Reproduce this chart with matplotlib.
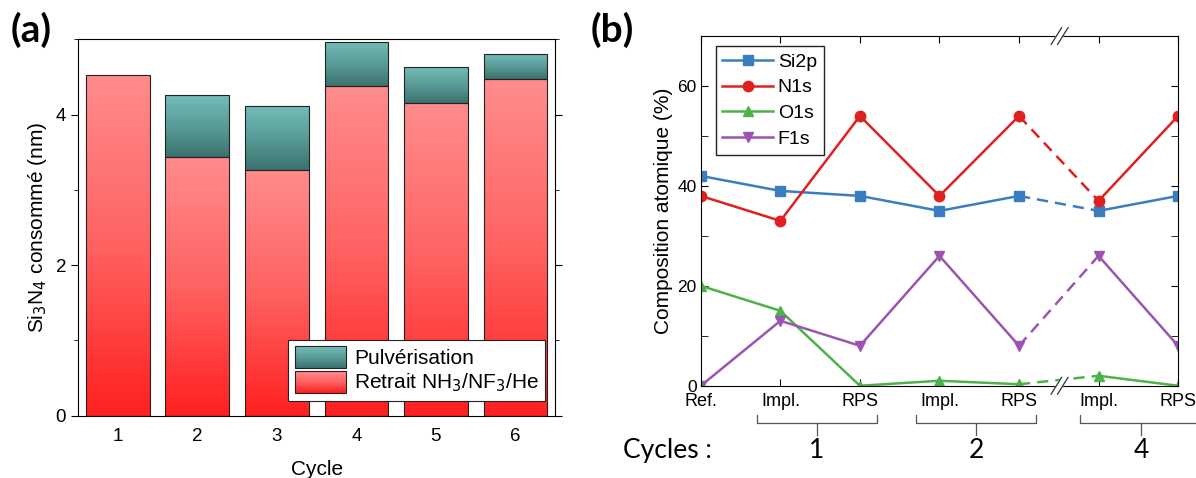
import numpy as np
import matplotlib.pyplot as plt
from matplotlib.colors import LinearSegmentedColormap
from matplotlib.patches import Rectangle
from matplotlib.legend_handler import HandlerBase
from matplotlib.ticker import MultipleLocator
from matplotlib.transforms import blended_transform_factory

plt.rcParams['font.family'] = ['Liberation Sans', 'DejaVu Sans']

# (a) consumed thickness per cycle
cycles = [1, 2, 3, 4, 5, 6]
retrait = [4.52, 3.44, 3.26, 4.38, 4.15, 4.47]
pulverisation = [0.0, 0.82, 0.86, 0.59, 0.48, 0.34]

# (b) XPS composition
steps = ['Ref.', 'Impl.', 'RPS', 'Impl.', 'RPS', 'Impl.', 'RPS']
si2p = [42, 39, 38, 35, 38, 35, 38]
n1s = [38, 33, 54, 38, 54, 37, 54]
o1s = [20, 15, 0, 1, 0.3, 2, 0]
f1s = [0, 13, 8, 26, 8, 26, 8]
cycle_groups = ['1', '2', '4']

red_cmap = LinearSegmentedColormap.from_list('rouge', ['#ff2020', '#ff6262', '#ff8c8c'])
teal_cmap = LinearSegmentedColormap.from_list('teal', ['#3c726e', '#5a9c97', '#72bdb8'])
grad = np.linspace(0, 1, 256).reshape(-1, 1)


def gradient_bars(ax, bars, cmap):
    """Replace the flat fill of each bar by a vertical gradient"""
    for b in bars:
        x, y = b.get_x(), b.get_y()
        w, h = b.get_width(), b.get_height()
        if h <= 0:
            b.set_visible(False)
            continue
        im = ax.imshow(grad, cmap=cmap, origin='lower', aspect='auto',
                       extent=[x, x + w, y, y + h], zorder=b.get_zorder() - 0.1)
        im.set_clip_path(b)
        b.set_facecolor('none')


class GradientHandler(HandlerBase):
    def __init__(self, cmap):
        super().__init__()
        self.cmap = cmap

    def create_artists(self, legend, orig_handle, xdescent, ydescent,
                       width, height, fontsize, trans):
        n = 40
        arts = []
        for i in range(n):
            arts.append(Rectangle((-xdescent, -ydescent + i * height / n), width,
                                  height / n * 1.1, facecolor=self.cmap(i / (n - 1)),
                                  edgecolor='none', transform=trans))
        arts.append(Rectangle((-xdescent, -ydescent), width, height, facecolor='none',
                              edgecolor='#222222', lw=0.8, transform=trans))
        return arts


fig = plt.figure(figsize=(11.96, 4.78), dpi=100)

####################################################################
# (a)
ax1 = fig.add_axes([0.0652, 0.1303, 0.399, 0.7875])
b_red = ax1.bar(cycles, retrait, width=0.8, edgecolor='#222222', linewidth=0.8)
b_teal = ax1.bar(cycles, pulverisation, bottom=retrait, width=0.8,
                 edgecolor='#222222', linewidth=0.8)
gradient_bars(ax1, b_red, red_cmap)
gradient_bars(ax1, b_teal, teal_cmap)
ax1.set_xlim(0.5, 6.5)
ax1.set_ylim(0, 5)
ax1.set_xticks(cycles)
ax1.set_yticks([0, 2, 4])
ax1.yaxis.set_minor_locator(MultipleLocator(1))
ax1.tick_params(axis='x', length=0, pad=9, labelsize=13.5)
ax1.tick_params(axis='y', which='both', direction='out', right=True, labelsize=13.5)
ax1.tick_params(axis='y', which='major', length=5)
ax1.tick_params(axis='y', which='minor', length=3)
ax1.set_xlabel('Cycle', fontsize=15, labelpad=11)
ax1.set_ylabel('Si$_3$N$_4$ consommé (nm)', fontsize=15, labelpad=5)

h_teal = Rectangle((0, 0), 1, 1)
h_red = Rectangle((0, 0), 1, 1)
leg = ax1.legend([h_teal, h_red], ['Pulvérisation', 'Retrait NH$_3$/NF$_3$/He'],
                 handler_map={h_teal: GradientHandler(teal_cmap),
                              h_red: GradientHandler(red_cmap)},
                 loc='lower right', bbox_to_anchor=(0.979, 0.04), fontsize=15,
                 handlelength=2.45, handleheight=1.25, handletextpad=0.4,
                 borderpad=0.3, labelspacing=0.13, borderaxespad=0,
                 fancybox=False, framealpha=1, edgecolor='#222222')
leg.get_frame().set_linewidth(0.8)

fig.text(0.009, 1 - 12 / 478, '(a)', fontsize=28, fontweight='bold', family='Lato',
         va='top')

####################################################################
# (b)
ax2 = fig.add_axes([0.586, 0.193, 0.399, 0.7316])
x = np.arange(len(steps))
series = [(si2p, 'Si2p', '#3a7dc0', 's'),
          (n1s, 'N1s', '#e0201f', 'o'),
          (o1s, 'O1s', '#4cb24a', '^'),
          (f1s, 'F1s', '#9b55b0', 'v')]
for vals, label, color, marker in series:
    vals = np.array(vals)
    ax2.plot(x[:5], vals[:5], color=color, marker=marker, lw=1.8, ms=7.5, label=label)
    ax2.plot(x[4:6], vals[4:6], color=color, lw=1.8, ls=(0, (4.5, 2.8)))
    ax2.plot(x[5:], vals[5:], color=color, marker=marker, lw=1.8, ms=7.5)

ax2.set_xlim(0, 6)
ax2.set_ylim(0, 70)
ax2.set_xticks(x)
ax2.set_xticklabels(steps)
ax2.set_yticks([0, 20, 40, 60])
ax2.yaxis.set_minor_locator(MultipleLocator(10))
ax2.tick_params(which='both', direction='in', top=True, right=True)
ax2.tick_params(axis='x', length=5, pad=5, labelsize=13)
ax2.tick_params(axis='y', which='major', length=5, labelsize=12.5, pad=3)
ax2.tick_params(axis='y', which='minor', length=5)
ax2.set_ylabel('Composition atomique (%)', fontsize=15, labelpad=3)

leg2 = ax2.legend(loc='upper left', bbox_to_anchor=(0.031, 0.971), fontsize=14,
                  handlelength=2.6, handletextpad=0.25, borderpad=0.35,
                  labelspacing=0.42, borderaxespad=0, fancybox=False,
                  framealpha=1, edgecolor='#222222')
leg2.get_frame().set_linewidth(1.0)

# axis break marks
bx, dx, dy, gap = 0.745, 0.011, 0.024, 0.0135
for yb in (0, 1):
    ax2.fill([bx - dx, bx - dx + gap, bx + dx + gap, bx + dx],
             [yb - dy, yb - dy, yb + dy, yb + dy], color='white',
             transform=ax2.transAxes, clip_on=False, zorder=5)
    for off in (0, gap):
        ax2.plot([bx - dx + off, bx + dx + off], [yb - dy, yb + dy], color='#333333',
                 lw=0.9, transform=ax2.transAxes, clip_on=False, zorder=6)

# cycle brackets under the step labels
tr = blended_transform_factory(ax2.transData, ax2.transAxes)
brackets = [(0.70, 2.21), (2.70, 4.22), (4.77, 6.30)]
for (x0, x1), name in zip(brackets, cycle_groups):
    xc = (x0 + x1) / 2
    ax2.plot([x0, x0, x1, x1], [-0.084, -0.107, -0.107, -0.084], color='#555555',
             lw=0.9, transform=tr, clip_on=False)
    ax2.plot([xc, xc], [-0.107, -0.14], color='#555555', lw=0.9,
             transform=tr, clip_on=False)
    ax2.text(xc, -0.185, name, transform=tr, ha='center', va='center',
             fontsize=19, family='Lato')
ax2.text(-0.163, -0.185, 'Cycles :', transform=ax2.transAxes, ha='left',
         va='center', fontsize=19, family='Lato')

fig.text(0.494, 1 - 12 / 478, '(b)', fontsize=28, fontweight='bold', family='Lato',
         va='top')

fig.savefig('out.png', dpi=100)
